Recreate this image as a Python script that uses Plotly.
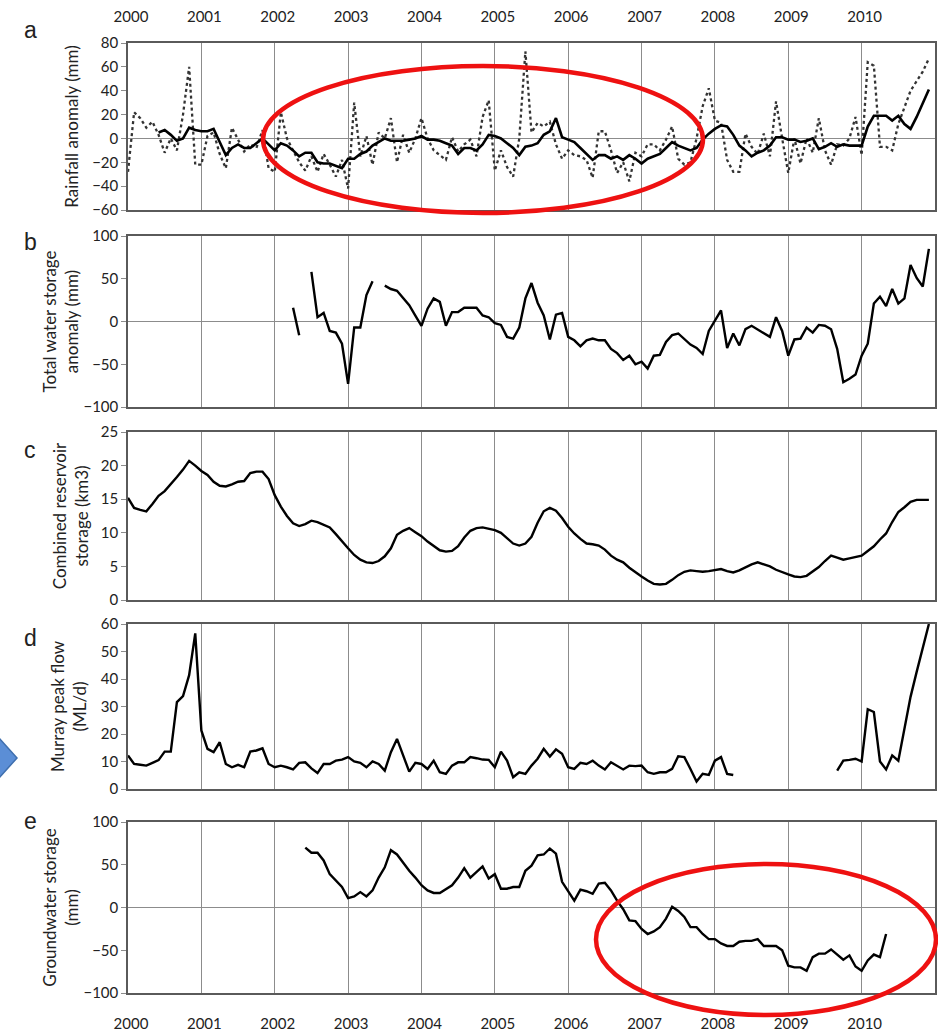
import plotly.graph_objects as go
from plotly.subplots import make_subplots

# ---------------- data (monthly, Jan 2000 - Dec 2010) ----------------
years = list(range(2000, 2011))
year_labels = [str(y) for y in years]
N_MONTHS = 132
month_pos = [2000 + i / 12 for i in range(N_MONTHS)]

# a) monthly rainfall anomaly (mm) - dotted
rain_monthly = [
    -28, 22, 17, 9, 14, 3, -12, 0, -10, 20, 60, -22,        # 2000
    -22, 2, 5, -13, -25, 9, -1, -11, -5, -8, 7, -25,        # 2001
    -28, 22, 0, -10, -20, -27, -15, -28, -13, -22, -32, -18,  # 2002
    -42, 30, -15, 2, -22, 5, 0, 17, -20, 3, -12, 0,         # 2003
    17, 0, -10, -14, -18, 1, -11, -5, -1, -15, 18, 32,      # 2004
    -27, -10, -24, -32, 0, 73, 5, 13, 10, 14, -5, -17,      # 2005
    -10, -14, -15, -18, -33, 6, 6, -10, -29, -20, -36, -12, # 2006
    -15, -5, -5, -10, -1, 10, -17, -22, -20, 0, 27, 42,     # 2007
    15, 13, -18, -28, -28, 4, -7, -13, 4, -15, 31, 0,       # 2008
    -29, 0, -21, 0, -12, 17, -10, -22, -5, -6, 0, 18,       # 2009
    -14, 64, 61, -7, -7, -10, 12, 26, 40, 48, 56, 67,       # 2010
]
# a) smoothed rainfall anomaly (mm) - solid
rain_smooth = [
    None, None, None, None, None, 5, 7, 3, -2, 0, 9, 7,     # 2000
    6, 6, 8, -3, -14, -8, -5, -8, -8, -4, 0, -5,            # 2001
    -10, -4, -6, -10, -15, -12, -12, -20, -21, -21, -23, -25,  # 2002
    -17, -17, -13, -11, -6, -3, 0, -2, -2, -2, -1, 0,       # 2003
    2, -1, -1, -2, -4, -6, -13, -8, -8, -10, -5, 3,         # 2004
    2, 0, -4, -8, -14, -7, -6, -4, 3, 6, 17, 1,             # 2005
    -1, -3, -8, -13, -18, -14, -14, -17, -15, -18, -14, -17,  # 2006
    -21, -17, -15, -13, -8, -3, -6, -8, -10, -8, -1, 4,     # 2007
    8, 11, 10, 3, -6, -10, -15, -12, -10, -6, 1, 1,         # 2008
    -1, -1, -3, -2, 0, -9, -7, -4, -7, -5, -6, -6,          # 2009
    -6, 10, 19, 19, 19, 15, 19, 12, 8, 18, 30, 41,          # 2010
]
# b) total water storage anomaly (mm)
tws = [None] * 27 + [
    16, -16, None,                                          # Apr-Jun 2002
    58, 5, 10, -11, -13, -26,                               # Jul-Dec 2002
    -73, -7, -7, 31, 47, None, 42, 38, 36, 27, 19, 7,       # 2003
    -5, 15, 27, 23, -5, 11, 11, 16, 16, 16, 7, 5,           # 2004
    -2, -4, -18, -20, -7, 27, 45, 22, 7, -21, 8, 10,        # 2005
    -18, -22, -29, -22, -20, -22, -22, -32, -37, -45, -40, -50,  # 2006
    -47, -55, -40, -39, -24, -16, -14, -20, -27, -31, -38, -11,  # 2007
    1, 13, -31, -14, -28, -9, -5, -9, -14, -18, 5, -11,     # 2008
    -40, -21, -20, -7, -13, -4, -5, -9, -32, -71, -67, -62, # 2009
    -40, -26, 21, 29, 18, 38, 21, 27, 66, 51, 41, 85,       # 2010
]
# c) combined reservoir storage (km3)
reservoir = [
    15.2, 13.7, 13.4, 13.2, 14.3, 15.5, 16.2, 17.2, 18.3, 19.4, 20.7, 20.0,
    19.2, 18.6, 17.6, 17.0, 16.9, 17.2, 17.6, 17.7, 18.9, 19.1, 19.1, 18.0,
    15.6, 13.9, 12.5, 11.4, 11.0, 11.3, 11.8, 11.6, 11.2, 10.8, 9.8, 8.7,
    7.7, 6.7, 6.0, 5.6, 5.5, 5.8, 6.5, 7.7, 9.7, 10.3, 10.7, 10.1,
    9.5, 8.7, 8.0, 7.4, 7.2, 7.3, 8.0, 9.3, 10.3, 10.7, 10.8, 10.6,
    10.4, 10.0, 9.2, 8.4, 8.1, 8.4, 9.4, 11.5, 13.2, 13.7, 13.3, 12.2,
    10.9, 9.9, 9.1, 8.4, 8.3, 8.1, 7.5, 6.6, 6.0, 5.6, 4.8, 4.1,
    3.5, 2.9, 2.4, 2.3, 2.4, 3.0, 3.7, 4.2, 4.4, 4.3, 4.2, 4.3,
    4.5, 4.6, 4.3, 4.1, 4.4, 4.9, 5.3, 5.6, 5.3, 5.0, 4.5, 4.1,
    3.8, 3.5, 3.4, 3.6, 4.2, 4.9, 5.8, 6.6, 6.3, 6.0, 6.2, 6.4,
    6.6, 7.3, 8.0, 9.0, 9.9, 11.6, 13.1, 13.8, 14.6, 14.9, 14.9, 14.9,
]
# d) Murray peak flow (ML/d)
peak_flow = [
    12.2, 9.1, 8.8, 8.5, 9.5, 10.5, 13.6, 13.6, 31.6, 33.8, 41.4, 56.6,
    21.3, 14.6, 13.4, 17.0, 9.1, 7.9, 8.8, 7.9, 13.6, 14.0, 14.8, 9.1,
    7.9, 8.5, 7.9, 7.1, 9.5, 9.7, 7.5, 5.8, 9.1, 9.1, 10.3, 10.7,
    11.6, 10.0, 9.5, 7.9, 10.0, 9.1, 6.7, 13.4, 18.2, 12.2, 6.3, 9.5,
    9.1, 7.3, 10.3, 6.1, 5.5, 8.5, 9.7, 9.7, 11.6, 11.2, 10.7, 10.6,
    7.9, 13.6, 10.3, 4.3, 6.1, 5.5, 8.5, 11.0, 14.6, 11.8, 14.4, 12.8,
    7.9, 7.3, 9.5, 9.1, 10.3, 8.5, 7.1, 9.7, 8.5, 7.1, 8.5, 8.3,
    8.5, 6.1, 5.5, 6.1, 6.1, 7.3, 11.9, 11.6, 7.3, 2.7, 5.5, 5.1,
    10.3, 11.6, 5.5, 5.1, None, None, None, None, None, None, None, None,
    None, None, None, None, None, None, None, None, 6.7, 10.3, 10.6, 11.0,
    10.0, 29.0, 28.0, 10.0, 7.1, 12.2, 10.3, 21.9, 33.5, 42.6, 51.0, 60.0,
]
# e) groundwater storage (mm)
groundwater = [None] * 29 + [
    70, 64, 64, 55, 39, 32, 24,                              # Jun-Dec 2002
    11, 13, 18, 13, 20, 35, 47, 67, 62, 52, 43, 35,          # 2003
    26, 20, 17, 17, 22, 26, 35, 46, 35, 41, 48, 34,          # 2004
    39, 22, 22, 24, 24, 43, 49, 61, 62, 69, 63, 30,          # 2005
    19, 8, 21, 19, 16, 28, 29, 20, 8, -2, -15, -16,          # 2006
    -25, -31, -28, -23, -13, 1, -4, -11, -23, -23, -31, -37, # 2007
    -37, -42, -45, -45, -40, -39, -39, -37, -45, -45, -45, -50,  # 2008
    -68, -70, -70, -74, -58, -54, -54, -49, -55, -61, -56, -69,  # 2009
    -74, -62, -55, -58, -31,                                 # Jan-May 2010
] + [None] * 7

panel_letters = ["a", "b", "c", "d", "e"]
y_titles = [
    "Rainfall anomaly (mm)",
    "Total water storage<br>anomaly (mm)",
    "Combined reservoir<br>storage (km3)",
    "Murray peak flow<br>(ML/d)",
    "Groundwater storage<br>(mm)",
]
y_ranges = [[-60, 80], [-100, 100], [0, 25], [0, 60], [-100, 100]]
y_dticks = [20, 50, 5, 10, 50]

# ---------------- figure ----------------
W, H = 938, 1033
L, R, T, B = 128, 3, 43, 40
plot_w = W - L - R
plot_h = H - T - B

def px_x(px):
    return (px - L) / plot_w

def px_y(py):
    return (H - B - py) / plot_h

# panel pixel extents (top, bottom)
panel_px = [(43, 210), (236, 407), (432, 600), (624, 789), (822, 993)]

fig = make_subplots(rows=5, cols=1)

fig.add_trace(go.Scatter(x=month_pos, y=rain_monthly, mode="lines",
                         line=dict(color="#333333", width=2.3, dash="dot"),
                         showlegend=False), row=1, col=1)
fig.add_trace(go.Scatter(x=month_pos, y=rain_smooth, mode="lines",
                         line=dict(color="black", width=2.6),
                         showlegend=False), row=1, col=1)
for r, series in zip([2, 3, 4, 5], [tws, reservoir, peak_flow, groundwater]):
    fig.add_trace(go.Scatter(x=month_pos, y=series, mode="lines",
                             line=dict(color="black", width=2.4),
                             connectgaps=False, showlegend=False), row=r, col=1)

FONT = "Lato, Carlito, sans-serif"
tick_font = dict(family=FONT, size=15, color="#222")
grid_col = "#8c8c8c"
title_standoff = [9, 0, 8, 10, 0]

for i in range(5):
    top, bot = panel_px[i]
    xa = "xaxis" if i == 0 else f"xaxis{i+1}"
    ya = "yaxis" if i == 0 else f"yaxis{i+1}"
    xcfg = dict(range=[2000, 2011], tickvals=years, ticktext=year_labels,
                showgrid=True, gridcolor=grid_col, gridwidth=1,
                showline=True, mirror=True, linecolor="#5a5a5a", linewidth=1.5,
                ticks="", zeroline=False, tickfont=tick_font,
                showticklabels=False)
    if i == 0:
        xcfg.update(side="top", showticklabels=True, ticklabelstandoff=13,
                    ticklabelshift=3)
    if i == 4:
        xcfg.update(showticklabels=True, ticklabelstandoff=16, ticklabelshift=3)
    fig.layout[xa].update(**xcfg)
    fig.layout[ya].update(
        domain=[px_y(bot), px_y(top)],
        range=y_ranges[i], dtick=y_dticks[i],
        showgrid=False,
        zeroline=(y_ranges[i][0] < 0), zerolinecolor=grid_col, zerolinewidth=1.2,
        showline=True, mirror=True, linecolor="#5a5a5a", linewidth=1.5,
        ticks="outside", ticklen=5, tickcolor="#8c8c8c", tickwidth=1,
        tickfont=tick_font,
        title=dict(text=y_titles[i],
                   font=dict(family=FONT, size=17, color="#222"),
                   standoff=title_standoff[i]),
    )

label_py = [30, 242, 450, 638, 821]
for letter, py in zip(panel_letters, label_py):
    fig.add_annotation(text=letter, xref="paper", yref="paper",
                       x=px_x(30), y=px_y(py), xanchor="center", yanchor="middle",
                       showarrow=False,
                       font=dict(family="Liberation Sans, Arial, sans-serif",
                                 size=23, color="#222"))

# red ellipses highlighting the drought period
fig.add_shape(type="circle", xref="paper", yref="paper",
              x0=px_x(263), x1=px_x(703), y0=px_y(213), y1=px_y(66),
              line=dict(color="#ee1111", width=4.5), layer="above")
fig.add_shape(type="circle", xref="paper", yref="paper",
              x0=px_x(596), x1=px_x(936), y0=px_y(1015), y1=px_y(864),
              line=dict(color="#ee1111", width=4.5), layer="above")

# blue arrow marker at left edge
arrow_path = "M {} {} L {} {} L {} {} Z".format(
    px_x(-2), px_y(737), px_x(17), px_y(758), px_x(-2), px_y(779))
fig.add_shape(type="path", xref="paper", yref="paper", path=arrow_path,
              fillcolor="#5b8ed6", line=dict(color="#3f6fae", width=1.5),
              layer="above")

fig.update_layout(
    width=W, height=H,
    margin=dict(l=L, r=R, t=T, b=B, autoexpand=False),
    paper_bgcolor="white", plot_bgcolor="white",
    showlegend=False,
    font=dict(family=FONT, size=15, color="#222"),
)

fig.write_html(
    "out.html",
    config={"displayModeBar": False},
    post_script="document.body.style.margin='0';document.body.style.overflow='hidden';",
)
